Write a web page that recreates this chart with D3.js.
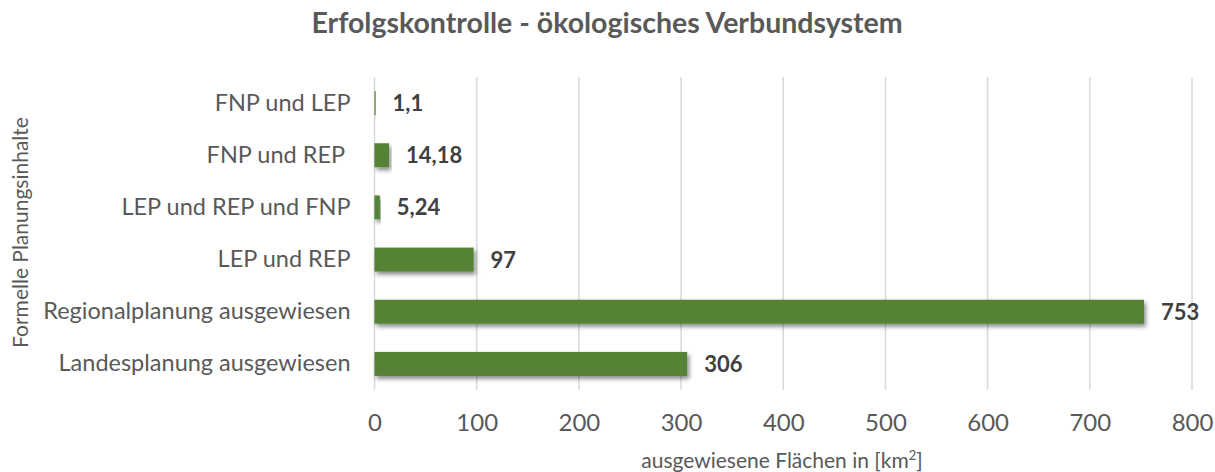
<!DOCTYPE html>
<html>
<head>
<meta charset="utf-8">
<script src="https://cdn.jsdelivr.net/npm/d3@7"></script>
<style>
  body { margin: 0; background: #fff; }
  svg { font-family: Lato, "Open Sans", sans-serif; }
</style>
</head>
<body>
<div id="chart"></div>
<script>
// data, top to bottom as drawn
var categories = ["FNP und LEP", "FNP und REP ", "LEP und REP und FNP", "LEP und REP", "Regionalplanung ausgewiesen", "Landesplanung ausgewiesen"];
var values = [1.1, 14.18, 5.24, 97, 753, 306];
var valueLabels = ["1,1", "14,18", "5,24", "97", "753", "306"];
var xTicks = [0, 100, 200, 300, 400, 500, 600, 700, 800];

var W = 1215, H = 472;
var plotL = 374.5, plotR = 1192, plotT = 77, plotB = 390;

var svg = d3.select("#chart").append("svg")
    .attr("width", W)
    .attr("height", H);

var defs = svg.append("defs");
var f = defs.append("filter").attr("id", "shadow")
    .attr("x", "-10%").attr("y", "-30%").attr("width", "130%").attr("height", "190%");
f.append("feDropShadow").attr("dx", 2).attr("dy", 3).attr("stdDeviation", 2)
    .attr("flood-color", "#000").attr("flood-opacity", 0.45);

var x = d3.scaleLinear().domain([0, 800]).range([plotL, plotR]);
var y = d3.scaleBand().domain(categories).range([plotT, plotB]).paddingInner(0.54).paddingOuter(0.27);

// gridlines
svg.append("g").selectAll("line").data(xTicks).enter().append("line")
    .attr("x1", function(d){ return x(d); })
    .attr("x2", function(d){ return x(d); })
    .attr("y1", plotT).attr("y2", plotB)
    .attr("stroke", "#d9d9d9").attr("stroke-width", 1.5);

// bars
svg.append("g").selectAll("rect").data(values).enter().append("rect")
    .attr("x", x(0))
    .attr("y", function(d, i){ return y(categories[i]); })
    .attr("width", function(d){ return x(d) - x(0); })
    .attr("height", y.bandwidth())
    .attr("fill", "#548235")
    .attr("filter", "url(#shadow)");

// value labels
svg.append("g").selectAll("text").data(values).enter().append("text")
    .attr("x", function(d){ return x(d) + 17; })
    .attr("y", function(d, i){ return y(categories[i]) + y.bandwidth() / 2; })
    .attr("dy", "0.36em")
    .attr("font-size", 22).attr("font-weight", "bold").attr("fill", "#404040")
    .text(function(d, i){ return valueLabels[i]; });

// category axis
var yAxis = d3.axisLeft(y).tickSize(0).tickPadding(24);
var yg = svg.append("g").attr("transform", "translate(" + plotL + ",0)").call(yAxis);
yg.select(".domain").remove();
yg.selectAll("text").attr("font-size", 23.5).attr("fill", "#595959")
    .style("font-family", "Lato, 'Open Sans', sans-serif")
    .style("white-space", "pre");

// value axis
var xAxis = d3.axisBottom(x).tickValues(xTicks).tickSize(0).tickPadding(24);
var xg = svg.append("g").attr("transform", "translate(0," + plotB + ")").call(xAxis);
xg.select(".domain").remove();
xg.selectAll("text").attr("font-size", 24).attr("fill", "#595959")
    .style("font-family", "Lato, 'Open Sans', sans-serif");

// title
svg.append("text")
    .attr("x", 607).attr("y", 33)
    .attr("text-anchor", "middle")
    .attr("font-size", 28.5).attr("font-weight", "bold").attr("fill", "#595959")
    .text("Erfolgskontrolle - ökologisches Verbundsystem");

// axis titles
var xt = svg.append("text")
    .attr("x", 782).attr("y", 468)
    .attr("text-anchor", "middle")
    .attr("font-size", 21).attr("fill", "#595959");
xt.append("tspan").text("ausgewiesene Flächen in [km");
xt.append("tspan").attr("font-size", 13).attr("dy", -8).text("2");
xt.append("tspan").attr("dy", 8).text("]");

svg.append("text")
    .attr("transform", "translate(28,232.5) rotate(-90)")
    .attr("text-anchor", "middle")
    .attr("font-size", 21).attr("fill", "#595959")
    .text("Formelle Planungsinhalte");
</script>
</body>
</html>
